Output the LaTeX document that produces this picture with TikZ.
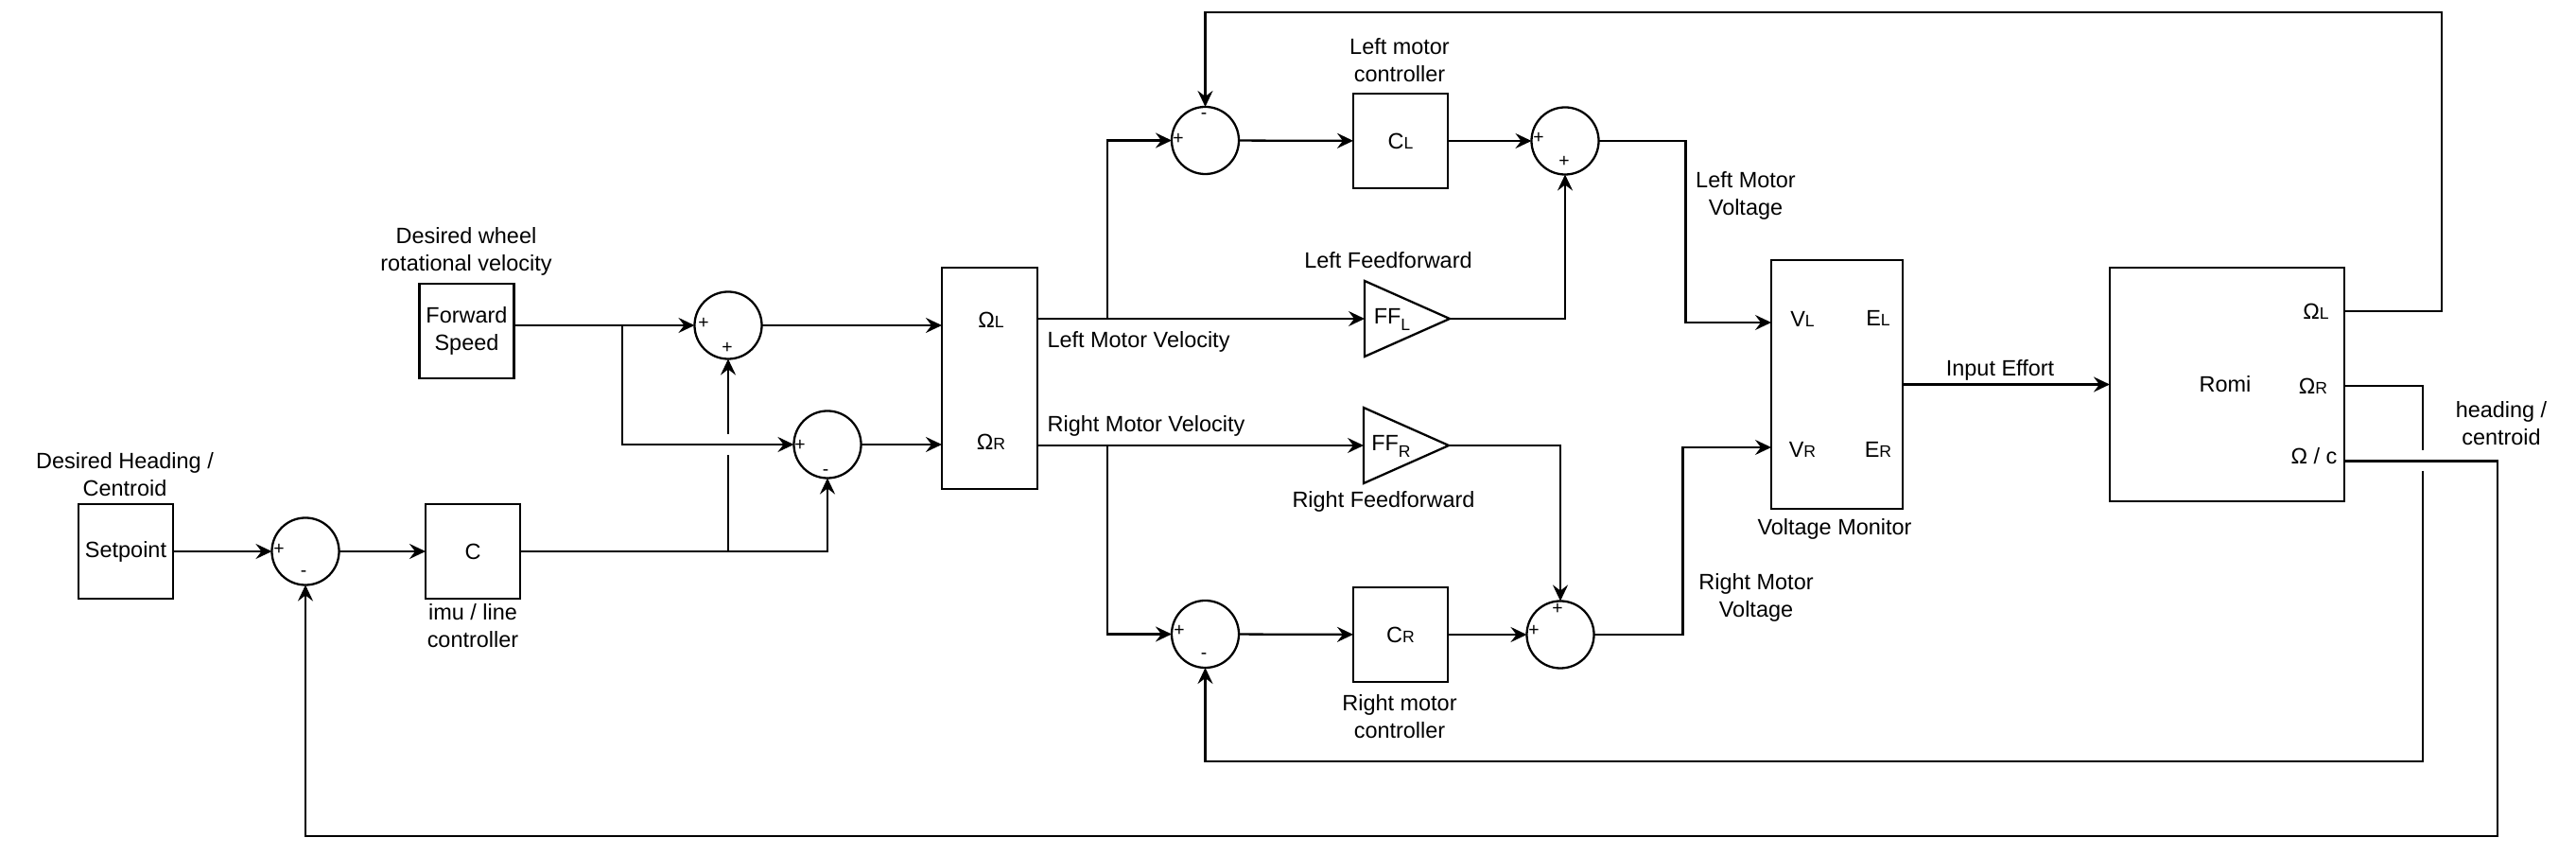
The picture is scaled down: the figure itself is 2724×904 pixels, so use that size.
\documentclass[tikz,border=0pt]{standalone}
\usepackage{fontspec}
\setmainfont{Liberation Sans}
\usetikzlibrary{arrows.meta}
\newcommand{\lsub}[1]{{\fontsize{5}{6}\selectfont #1}}
\newcommand{\dsub}[1]{\raisebox{-2pt}{\fontsize{5}{6}\selectfont #1}}
\begin{document}
\begin{tikzpicture}[x=0.01cm,y=-0.01cm,
  every node/.style={font=\fontsize{6.67}{8.3}\selectfont, inner sep=0pt, outer sep=0pt},
  box/.style={draw, line width=0.65pt, minimum width=1cm, minimum height=1cm},
  sumnode/.style={draw, circle, line width=0.65pt, minimum size=0.71cm},
  sgn/.style={font=\fontsize{5.5}{6}\selectfont},
  lbl/.style={align=center},
  wire/.style={line width=0.65pt},
  arr/.style={wire, -{Stealth[length=1.7mm,width=1.6mm,inset=0.6mm]}},
]
\useasboundingbox (0,0) rectangle (2724,904);

% ---- left part
\node[box] (sp) at (133,583) {Setpoint};
\node[lbl] (spl) at (132,502) {Desired Heading /\\Centroid};
\node[sumnode] (s1) at (323,583) {};
\node[sgn] (s1a) at (295,581) {+};
\node[sgn] (s1b) at (321,607) {-};
\node[box] (c) at (500,583) {C};
\node[lbl] (cl) at (500,662) {imu / line\\controller};
\node[box, align=center] (fw) at (493.5,350) {Forward\\Speed};
\node[lbl] (fwl) at (493,266) {Desired wheel\\rotational velocity};
\node[sumnode] (s2) at (770,344) {};
\node[sgn] (s2a) at (744,342) {+};
\node[sgn] (s2b) at (769,368) {+};
\node[sumnode] (s3) at (875,470) {};
\node[sgn] (s3a) at (846,471) {+};
\node[sgn] (s3b) at (873,500) {-};

% ---- omega box
\node[draw, line width=0.65pt, minimum width=1.01cm, minimum height=2.34cm] (om) at (1046.5,400) {};
\node (omL) at (1048,338) {Ω\lsub{L}};
\node (omR) at (1048,467) {Ω\lsub{R}};
\node (lmv) at (1204,361) {Left Motor Velocity};
\node (rmv) at (1212,450) {Right Motor Velocity};

% ---- left motor loop
\node[sumnode] (s4) at (1274.5,148.5) {};
\node[sgn] (s4a) at (1246,147) {+};
\node[sgn] (s4b) at (1273,123) {-};
\node[box] (cLb) at (1481,149) {C\lsub{L}};
\node[lbl] (cLl) at (1480,64) {Left motor\\controller};
\node[sumnode] (s5) at (1655,149) {};
\node[sgn] (s5a) at (1627,146) {+};
\node[sgn] (s5b) at (1654,171) {+};
\draw[wire] (1443,297) -- (1533,337) -- (1443,377) -- cycle;
\coordinate (ffLi) at (1443,337);
\coordinate (ffLo) at (1533,337);
\node (ffLt) at (1472,338) {FF\dsub{L}};
\node (ffLl) at (1468,275) {Left Feedforward};

% ---- right motor loop
\draw[wire] (1442,431) -- (1532,471) -- (1442,511) -- cycle;
\coordinate (ffRi) at (1442,471);
\coordinate (ffRo) at (1532,471);
\node (ffRt) at (1471,472) {FF\dsub{R}};
\node (ffRl) at (1463,530) {Right Feedforward};
\node[sumnode] (s6) at (1274.5,670.5) {};
\node[sgn] (s6a) at (1247,667) {+};
\node[sgn] (s6b) at (1273,694) {-};
\node[box] (cRb) at (1481,671) {C\lsub{R}};
\node[lbl] (cRl) at (1480,758) {Right motor\\controller};
\node[sumnode] (s7) at (1650,671) {};
\node[sgn] (s7a) at (1647,644) {+};
\node[sgn] (s7b) at (1622,667) {+};

% ---- voltage monitor
\node[lbl] (lmvo) at (1846,207) {Left Motor\\Voltage};
\node[lbl] (rmvo) at (1857,632) {Right Motor\\Voltage};
\node[draw, line width=0.65pt, minimum width=1.39cm, minimum height=2.63cm] (vm) at (1942.5,406.5) {};
\node (vL) at (1906,337) {V\lsub{L}};
\node (eL) at (1986,336) {E\lsub{L}};
\node (vR) at (1906,475) {V\lsub{R}};
\node (eR) at (1986,475) {E\lsub{R}};
\node (vml) at (1940,559) {Voltage Monitor};
\node (ie) at (2115,391) {Input Effort};

% ---- Romi
\node[draw, line width=0.65pt, minimum width=2.48cm, minimum height=2.47cm] (romi) at (2355,406.5) {};
\node (romit) at (2353,406) {Romi};
\node (rOL) at (2449,329) {Ω\lsub{L}};
\node (rOR) at (2446,408) {Ω\lsub{R}};
\node (rOC) at (2447,482.5) {Ω / c};
\node[lbl] (hc) at (2645,448) {heading /\\centroid};

% ---- coordinates
\coordinate (j1) at (770,583);
\coordinate (g1a) at (770,481);
\coordinate (g1b) at (770,459);
\coordinate (j2) at (658,344);
\coordinate (omLo) at (1097,337);
\coordinate (omRo) at (1097,471);
\coordinate (j3) at (1171,337);
\coordinate (j4) at (1171,471);
\coordinate (vmL) at (1873,341);
\coordinate (vmR) at (1873,473);
\coordinate (rL) at (2479,329);
\coordinate (rR) at (2479,408);
\coordinate (rC) at (2479,487.5);
\coordinate (t1) at (2582,13);
\coordinate (g2a) at (2562,476);
\coordinate (g2b) at (2562,498);
\coordinate (b1) at (2562,805);
\coordinate (b2) at (2641,884);

% ---- connectors
\draw[arr] (sp) -- (s1);
\draw[arr] (s1) -- (c);
\draw[arr] (c.east) -| (s3.south);
\draw[wire] (j1) -- (g1a);
\draw[arr] (g1b) -- (s2.south);
\draw[arr] (fw.east |- s2.west) -- (s2.west);
\draw[arr] (j2) |- (s3.west);
\draw[arr] (s2.east) -- (s2.east -| om.west);
\draw[arr] (s3.east) -- (s3.east -| om.west);
\draw[arr] (omLo) -- (ffLi);
\draw[arr] (j3) |- (s4.west);
\draw[arr] (omRo) -- (ffRi);
\draw[arr] (j4) |- (s6.west);
\draw[arr] (s4) -- (cLb);
\draw[arr] (cLb) -- (s5);
\draw[arr] (ffLo) -| (s5.south);
\draw[arr] (s6) -- (cRb);
\draw[arr] (cRb) -- (s7);
\draw[arr] (ffRo) -| (s7.north);
\draw[arr] (s5.east) -- ++(92,0) |- (vmL);
\draw[arr] (s7.east) -- ++(94,0) |- (vmR);
\draw[arr] (vm.east) -- (romi.west);
\draw[arr] (rL) -| (t1) -| (s4.north);
\draw[wire] (rR) -| (g2a);
\draw[arr] (g2b) -- (b1) -| (s6.south);
\draw[arr] (rC) -| (b2) -| (s1.south);
\end{tikzpicture}
\end{document}
